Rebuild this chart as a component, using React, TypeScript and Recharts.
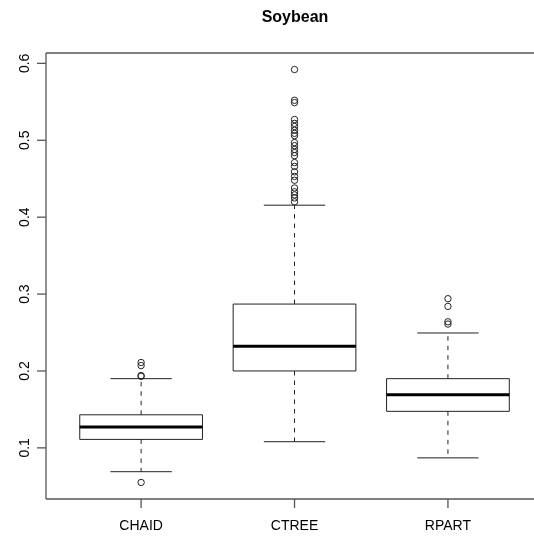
import { ScatterChart, Scatter, XAxis, YAxis, ReferenceLine } from "recharts";

// five-number summaries
const categories = ["CHAID", "CTREE", "RPART"];
const lowerWhisker = [0.069, 0.108, 0.087];
const q1 = [0.111, 0.2, 0.1475];
const medians = [0.127, 0.232, 0.169];
const q3 = [0.143, 0.287, 0.19];
const upperWhisker = [0.19, 0.4156, 0.2494];

const chaidOutliers = [0.055, 0.193, 0.194, 0.207, 0.211];
const ctreeOutliers = [
  0.592, 0.552, 0.549, 0.527, 0.522, 0.518, 0.513, 0.509, 0.506, 0.497,
  0.493, 0.488, 0.484, 0.48, 0.471, 0.466, 0.459, 0.453, 0.448, 0.438,
  0.433, 0.429, 0.425, 0.42,
];
const rpartOutliers = [0.294, 0.284, 0.264, 0.261];
const outliers = [chaidOutliers, ctreeOutliers, rpartOutliers];

const yTicks = [0.1, 0.2, 0.3, 0.4, 0.5, 0.6];
const xTicks = [1, 2, 3];
// the original plot region runs past the right edge of the image
const xDomain = [0.38, 3.561];
const yDomain = [0.0335, 0.6135];

const BOX_HALF = 0.4;
const STAPLE_HALF = 0.2;
const FONT = "'Liberation Sans', Arial, Helvetica, sans-serif";
const INK = "#222";

const noPoint = () => <g />;

function YTick({ x, y, payload }: any) {
  const tx = x - 6;
  return (
    <text
      x={tx}
      y={y}
      transform={`rotate(-90 ${tx} ${y})`}
      textAnchor="middle"
      fontSize={14}
      fontFamily={FONT}
      fill="#000"
    >
      {String(payload.value)}
    </text>
  );
}

function Ring({ cx, cy }: any) {
  return <circle cx={cx} cy={cy} r={3.2} fill="none" stroke={INK} strokeWidth={1} />;
}

export default function App() {
  const parts: any[] = [];
  categories.forEach((name, i) => {
    const x = i + 1;
    const box = [
      { x: x - BOX_HALF, y: q1[i] },
      { x: x + BOX_HALF, y: q1[i] },
      { x: x + BOX_HALF, y: q3[i] },
      { x: x - BOX_HALF, y: q3[i] },
      { x: x - BOX_HALF, y: q1[i] },
    ];
    const median = [
      { x: x - BOX_HALF, y: medians[i] },
      { x: x + BOX_HALF, y: medians[i] },
    ];
    const upper = [
      { x, y: q3[i] },
      { x, y: upperWhisker[i] },
    ];
    const lower = [
      { x, y: q1[i] },
      { x, y: lowerWhisker[i] },
    ];
    const capTop = [
      { x: x - STAPLE_HALF, y: upperWhisker[i] },
      { x: x + STAPLE_HALF, y: upperWhisker[i] },
    ];
    const capBottom = [
      { x: x - STAPLE_HALF, y: lowerWhisker[i] },
      { x: x + STAPLE_HALF, y: lowerWhisker[i] },
    ];
    const dashed = { stroke: INK, strokeWidth: 1, strokeDasharray: "4.5 5" };
    const solid = { stroke: INK, strokeWidth: 1 };
    parts.push(
      <Scatter key={`${name}-up`} data={upper} line={dashed} lineType="joint" shape={noPoint} isAnimationActive={false} />,
      <Scatter key={`${name}-lo`} data={lower} line={dashed} lineType="joint" shape={noPoint} isAnimationActive={false} />,
      <Scatter key={`${name}-ct`} data={capTop} line={solid} lineType="joint" shape={noPoint} isAnimationActive={false} />,
      <Scatter key={`${name}-cb`} data={capBottom} line={solid} lineType="joint" shape={noPoint} isAnimationActive={false} />,
      <Scatter key={`${name}-box`} data={box} line={solid} lineType="joint" shape={noPoint} isAnimationActive={false} />,
      <Scatter
        key={`${name}-med`}
        data={median}
        line={{ stroke: "#000", strokeWidth: 3 }}
        lineType="joint"
        shape={noPoint}
        isAnimationActive={false}
      />,
      <Scatter
        key={`${name}-out`}
        data={outliers[i].map((v) => ({ x, y: v }))}
        shape={<Ring />}
        isAnimationActive={false}
      />
    );
  });

  return (
    <div
      style={{
        position: "fixed",
        left: 0,
        top: 0,
        width: 534,
        height: 537,
        background: "#fff",
      }}
    >
      <div
        style={{
          position: "absolute",
          left: 0,
          top: 8,
          width: 590,
          textAlign: "center",
          fontFamily: FONT,
          fontWeight: "bold",
          fontSize: 16,
          lineHeight: "18px",
          color: "#000",
        }}
      >
        Soybean
      </div>
      <ScatterChart
        width={534}
        height={537}
        margin={{ top: 53, right: 0, bottom: 0, left: 0 }}
      >
        <XAxis
          type="number"
          dataKey="x"
          domain={xDomain}
          ticks={xTicks}
          allowDataOverflow
          tickFormatter={(v: number) => categories[v - 1]}
          tickSize={9}
          tickMargin={12}
          height={38}
          stroke="#555"
          strokeWidth={1.3}
          tick={{ fill: "#000", fontSize: 14, fontFamily: FONT }}
        />
        <YAxis
          type="number"
          dataKey="y"
          domain={yDomain}
          ticks={yTicks}
          allowDataOverflow
          width={46}
          tickSize={9}
          tickMargin={2}
          stroke="#555"
          strokeWidth={1.3}
          tick={<YTick />}
        />
        <ReferenceLine y={yDomain[1]} stroke="#555" strokeWidth={1.3} />
        {parts}
      </ScatterChart>
    </div>
  );
}
